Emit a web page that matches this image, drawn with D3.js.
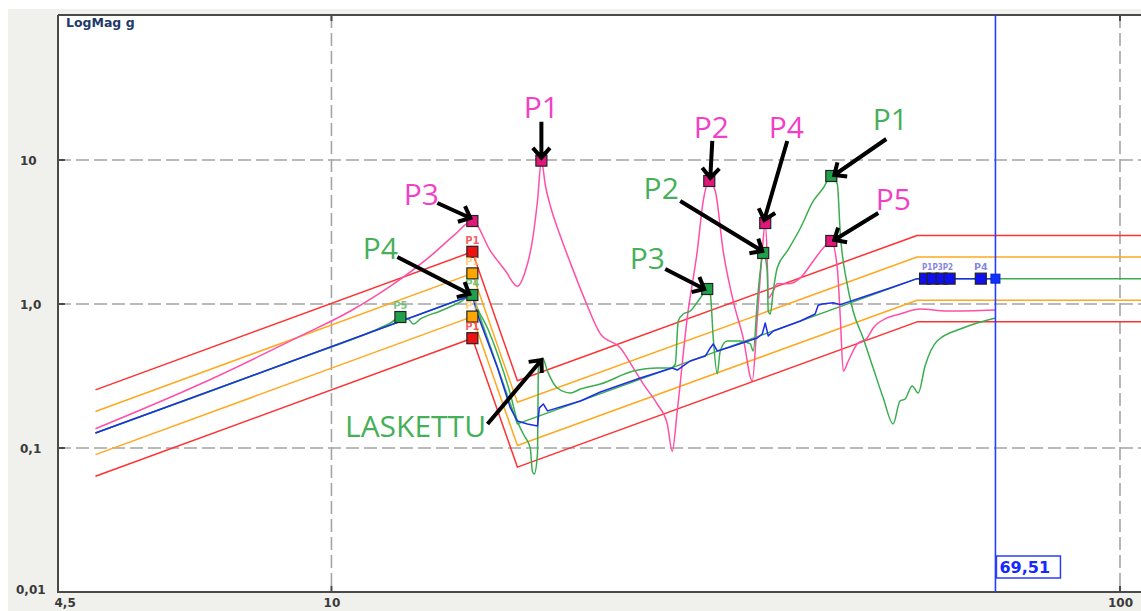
<!DOCTYPE html>
<html><head><meta charset="utf-8">
<script src="https://cdn.jsdelivr.net/npm/d3@7"></script>
<style>
html,body{margin:0;padding:0;background:#fff;overflow:hidden}
svg{display:block}
</style></head><body>
<svg id="chart" width="1141" height="611"></svg>
<script>
// ---- Sine sweep data (frequency in Hz, acceleration in g) ----

// Reference (demand) profile break points
const refF = [5.02, 15.09, 17.21, 55.29, 106.5];
const refG = [0.127, 1.155, 0.147, 1.50, 1.50];

// Alarm and abort limits around the reference, in dB
const limitDb = [6, 3, -3, -6];
const limitColor = ["#ff3030", "#ffa820", "#ffa820", "#ff3030"];

// Control channel (blue)
const blueF = [5.02, 15.09, 15.31, 15.77, 16.24, 16.86, 17.21, 17.72, 18.25, 18.35, 18.57, 18.79, 20.69, 21.93, 24.64, 27.05, 27.45, 28.51, 29.79, 30.23, 30.49, 30.85, 32.04, 34.68, 35.18, 35.49, 35.80, 36.33, 39.33, 41.06, 41.42, 41.91, 43.28, 44.19, 46.83, 51.10, 55.29, 69.51];
const blueG = [0.127, 1.155, 0.852, 0.553, 0.359, 0.190, 0.154, 0.147, 0.142, 0.190, 0.202, 0.181, 0.212, 0.245, 0.306, 0.359, 0.348, 0.402, 0.435, 0.495, 0.528, 0.472, 0.503, 0.581, 0.619, 0.738, 0.600, 0.649, 0.762, 0.852, 0.98, 1.00, 1.02, 0.99, 1.10, 1.29, 1.50, 1.50];

// Response channel (green)
const greenF = [5.02, 6.82, 9.14, 11.21, 11.88, 12.23, 12.52, 12.70, 12.97, 13.75, 14.57, 15.09, 15.31, 15.77, 16.24, 16.86, 17.21, 17.51, 17.87, 17.98, 18.08, 18.25, 18.30, 18.52, 18.79, 19.34, 20.09, 20.69, 21.93, 24.15, 25.89, 26.90, 27.29, 27.53, 27.93, 28.51, 29.36, 29.96, 30.23, 30.49, 30.85, 31.12, 31.76, 32.99, 33.97, 34.27, 34.68, 34.98, 35.28, 35.70, 35.80, 36.01, 36.33, 36.75, 37.86, 39.33, 40.84, 42.05, 43.04, 43.80, 44.19, 45.08, 45.87, 47.23, 48.64, 50.08, 51.56, 52.60, 53.40, 54.50, 55.47, 56.60, 58.62, 63.23, 69.51];
const greenG = [0.127, 0.233, 0.422, 0.639, 0.738, 0.812, 0.787, 0.726, 0.787, 0.894, 1.032, 1.155, 0.938, 0.681, 0.450, 0.237, 0.154, 0.125, 0.100, 0.069, 0.066, 0.091, 0.359, 0.422, 0.342, 0.261, 0.241, 0.257, 0.278, 0.342, 0.359, 0.359, 0.383, 0.762, 0.852, 0.894, 1.101, 1.271, 1.173, 0.581, 0.327, 0.472, 0.553, 0.553, 0.528, 0.472, 1.049, 1.695, 2.261, 1.695, 0.894, 0.852, 1.231, 1.778, 2.334, 3.372, 5.193, 6.393, 7.743, 6.813, 3.063, 1.377, 0.894, 0.581, 0.359, 0.223, 0.147, 0.212, 0.219, 0.270, 0.241, 0.371, 0.553, 0.681, 0.799];

// Response channel (pink)
const pinkF = [5.02, 6.82, 9.14, 10.57, 11.88, 13.35, 14.36, 15.09, 15.91, 16.62, 17.21, 17.62, 17.98, 18.25, 18.46, 18.68, 18.95, 19.51, 20.09, 20.99, 21.93, 23.25, 24.15, 24.86, 25.89, 26.66, 27.05, 27.45, 28.26, 29.10, 29.61, 30.14, 30.67, 31.39, 32.32, 33.28, 34.17, 34.68, 35.18, 35.49, 35.70, 35.80, 36.33, 36.75, 37.86, 39.33, 40.84, 42.05, 43.04, 43.80, 44.19, 44.57, 45.23, 46.42, 47.80, 48.64, 50.65, 52.60, 55.79, 60.36, 69.51];
const pinkG = [0.136, 0.278, 0.600, 0.894, 1.33, 2.15, 3.06, 3.77, 2.33, 1.70, 1.33, 1.70, 2.74, 5.19, 9.9, 6.60, 4.79, 2.97, 1.93, 1.05, 0.62, 0.495, 0.359, 0.278, 0.202, 0.147, 0.095, 0.181, 0.80, 2.33, 5.19, 7.15, 6.09, 2.33, 1.05, 0.58, 0.292, 0.80, 2.33, 3.65, 1.99, 1.10, 1.23, 1.38, 1.38, 1.52, 1.99, 2.45, 2.74, 1.78, 0.80, 0.342, 0.402, 0.528, 0.581, 0.681, 0.80, 0.852, 0.923, 0.894, 0.909];

// Peak markers
const pinkPeakF = [15.09, 18.46, 30.14, 35.49, 43.04];
const pinkPeakG = [3.77, 9.9, 7.15, 3.65, 2.74];
const greenPeakF = [12.23, 15.09, 29.96, 35.28, 43.04];
const greenPeakG = [0.812, 1.155, 1.271, 2.261, 7.743];
const greenPeakName = ["P5", "P4", "P3", "P2", "P1"];
const controlLevel = 1.5;
const bluePeakF = [56.6, 57.9, 59.4, 60.8, 66.6];
const blueGroupName = ["P1P3P2", "P4"];
const blueGroupF = [58.7, 66.6];
const limitMarkF = 15.09;
const limitMarkName = ["P1", "P1", "P1", "P1"];

// Cursor
const cursorF = 69.51;
const cursorText = "69,51";

// Axis ticks
const yTicks = [0.01, 0.1, 1, 10];
const yTickText = ["0,01", "0,1", "1,0", "10"];
const xTicks = [4.5, 10, 100];
const xTickText = ["4,5", "10", "100"];
const yGrid = [0.1, 1, 10];
const xGrid = [10, 100];
const yTitle = "LogMag g";

// Callouts: which peak they point at, and their text
const calloutText = ["P1", "P3", "P2", "P4", "P1", "P5", "P2", "P3", "P4", "LASKETTU"];
const calloutSeries = ["pink", "pink", "pink", "pink", "green", "pink", "green", "green", "green", "green"];
const calloutF = [18.46, 15.09, 30.14, 35.49, 43.04, 43.04, 35.28, 29.96, 15.09, 18.52];
const calloutG = [9.9, 3.77, 7.15, 3.65, 7.743, 2.74, 2.261, 1.271, 1.155, 0.422];

// ---- Layout ----
const C = {
  red: "#ff3030", orange: "#ffa820", green: "#3aae4e", pink: "#ff4fa6",
  blue: "#1e2cf0", grid: "#a4a4a4", axis: "#4a4a4a", panel: "#f0f0ec",
  pinkText: "#f23fc6", greenText: "#45b058"
};
const P = { left: 58, top: 15, right: 1141, bottom: 592 };

const svg = d3.select("#chart");
const x = d3.scaleLog().domain([4.5, 100]).range([58, 1120]);
const y = d3.scaleLog().domain([0.01, 100]).range([592, 16]);

svg.append("rect").attr("width", 1141).attr("height", 611).attr("fill", "#fff");
svg.append("rect").attr("x", 8).attr("y", 9).attr("width", 1133).attr("height", 602).attr("fill", C.panel);
svg.append("rect").attr("x", P.left).attr("y", P.top)
  .attr("width", P.right - P.left).attr("height", P.bottom - P.top).attr("fill", "#fff");

svg.append("clipPath").attr("id", "plotClip").append("rect")
  .attr("x", P.left).attr("y", P.top).attr("width", P.right - P.left).attr("height", P.bottom - P.top);

// grid
const grid = svg.append("g").attr("clip-path", "url(#plotClip)");
grid.selectAll("line.h").data(yGrid).join("line")
  .attr("x1", P.left).attr("x2", P.right).attr("y1", d => y(d)).attr("y2", d => y(d))
  .attr("stroke", C.grid).attr("stroke-width", 1.6).attr("stroke-dasharray", "13,5");
grid.selectAll("line.v").data(xGrid).join("line")
  .attr("class", "v")
  .attr("y1", P.top).attr("y2", P.bottom).attr("x1", d => x(d)).attr("x2", d => x(d))
  .attr("stroke", C.grid).attr("stroke-width", 1.6).attr("stroke-dasharray", "13,5");

// tick stubs at the ends of grid lines
const stubs = svg.append("g").attr("stroke", C.axis).attr("stroke-width", 2);
yGrid.forEach(v => stubs.append("line").attr("x1", P.left).attr("x2", P.left + 7).attr("y1", y(v)).attr("y2", y(v)));
xGrid.forEach(v => {
  stubs.append("line").attr("x1", x(v)).attr("x2", x(v)).attr("y1", P.bottom).attr("y2", P.bottom - 6);
  stubs.append("line").attr("x1", x(v)).attr("x2", x(v)).attr("y1", P.top).attr("y2", P.top + 6);
});

// axes labels via d3 axes
const yAxis = svg.append("g").attr("transform", `translate(${P.left},0)`)
  .call(d3.axisLeft(y).tickValues(yTicks).tickSize(0).tickPadding(0)
    .tickFormat(d => yTickText[yTicks.indexOf(d)]));
yAxis.select(".domain").remove();
yAxis.selectAll("text")
  .attr("text-anchor", "start")
  .attr("x", d => d === 0.01 ? -42 : -38)
  .attr("dy", d => d === 0.01 ? "0.1em" : "0.35em")
  .attr("font-family", "DejaVu Sans, Verdana, sans-serif")
  .attr("font-weight", "bold").attr("font-size", 12).attr("fill", "#3a3a3a");

const xAxis = svg.append("g").attr("transform", `translate(0,${P.bottom})`)
  .call(d3.axisBottom(x).tickValues(xTicks).tickSize(0).tickPadding(6)
    .tickFormat(d => xTickText[xTicks.indexOf(d)]));
xAxis.select(".domain").remove();
xAxis.selectAll("text")
  .attr("text-anchor", d => d === 4.5 ? "start" : "middle")
  .attr("x", d => d === 4.5 ? -4 : 0)
  .attr("font-family", "DejaVu Sans, Verdana, sans-serif")
  .attr("font-weight", "bold").attr("font-size", 12).attr("fill", "#3a3a3a");

// frame
svg.append("path")
  .attr("d", `M${P.left},${P.top}L${P.right},${P.top}M${P.left},${P.top}L${P.left},${P.bottom}L${P.right},${P.bottom}`)
  .attr("fill", "none").attr("stroke", C.axis).attr("stroke-width", 2);

svg.append("text").attr("x", 66).attr("y", 27).text(yTitle)
  .attr("font-family", "DejaVu Sans, Verdana, sans-serif").attr("font-weight", "bold")
  .attr("font-size", 12.5).attr("fill", "#1f3a6a");

// ---- traces ----
const line = d3.line().x(d => x(d[0])).y(d => y(d[1]));
const smooth = d3.line().x(d => x(d[0])).y(d => y(d[1])).curve(d3.curveMonotoneX);
const pairs = (fs, gs) => fs.map((f, i) => [f, gs[i]]);
const traces = svg.append("g").attr("clip-path", "url(#plotClip)")
  .attr("fill", "none").attr("stroke-width", 1.5).attr("stroke-linejoin", "round");

const refPts = pairs(refF, refG);
limitDb.forEach((db, i) => {
  const k = Math.pow(10, db / 20);
  traces.append("path").attr("d", line(refPts.map(p => [p[0], p[1] * k])))
    .attr("stroke", limitColor[i]);
});
traces.append("path").attr("d", line(refPts)).attr("stroke", C.green);
traces.append("path").attr("d", smooth(pairs(pinkF, pinkG))).attr("stroke", C.pink);
traces.append("path").attr("d", smooth(pairs(greenF, greenG))).attr("stroke", C.green);
traces.append("path").attr("d", line(pairs(blueF, blueG))).attr("stroke", C.blue);

// cursor
const cx = x(cursorF);
svg.append("line").attr("x1", cx).attr("x2", cx).attr("y1", P.top).attr("y2", P.bottom)
  .attr("stroke", "#2a3cff").attr("stroke-width", 1.6);

// ---- markers ----
const mk = svg.append("g");
function square(f, g, fill, size, stroke) {
  mk.append("rect").attr("x", x(f) - size / 2).attr("y", y(g) - size / 2)
    .attr("width", size).attr("height", size)
    .attr("fill", fill).attr("stroke", stroke || "#222").attr("stroke-width", 1.2);
}
function tag(f, g, txt, color, dy, size) {
  return mk.append("text").attr("x", x(f)).attr("y", y(g) + dy).text(txt)
    .attr("text-anchor", "middle").attr("font-family", "DejaVu Sans, Verdana, sans-serif")
    .attr("font-weight", "bold").attr("font-size", size || 10).attr("fill", color);
}

// limit markers at the notch start
const refAtMark = refG[1];
limitDb.forEach((db, i) => {
  const g = refAtMark * Math.pow(10, db / 20);
  const fill = i === 0 || i === 3 ? "#ee1212" : "#ffa500";
  const lab = i === 0 || i === 3 ? "rgba(240,70,70,0.85)" : "rgba(255,190,80,0.7)";
  tag(limitMarkF, g, limitMarkName[i], lab, -8);
  square(limitMarkF, g, fill, 11);
});

// blue markers on the control line
blueGroupF.forEach((f, i) => {
  const t = tag(f, controlLevel, blueGroupName[i], "rgba(90,90,215,0.75)", -9, 9.5);
  if (blueGroupName[i].length > 2) t.attr("textLength", 31).attr("lengthAdjust", "spacingAndGlyphs");
});
bluePeakF.forEach(f => square(f, controlLevel, "#1010ee", 11));
mk.append("rect").attr("x", cx - 4.5).attr("y", y(controlLevel) - 4.5).attr("width", 9).attr("height", 9)
  .attr("fill", "#1030ff").attr("stroke", "#1020c0").attr("stroke-width", 1);

// green peak markers
greenPeakF.forEach((f, i) => {
  if (greenPeakName[i] === "P5" || greenPeakName[i] === "P4")
    tag(f, greenPeakG[i], greenPeakName[i], "rgba(80,180,90,0.75)", -8);
  square(f, greenPeakG[i], "#20a04a", 11);
});
// pink peak markers
pinkPeakF.forEach((f, i) => square(f, pinkPeakG[i], "#e0187c", 11));

// cursor readout
const box = svg.append("g");
box.append("rect").attr("x", cx + 1).attr("y", 556).attr("width", 64).attr("height", 22)
  .attr("fill", "#fff").attr("stroke", "#2a3cff").attr("stroke-width", 1.5);
box.append("text").attr("x", cx + 4).attr("y", 573).text(cursorText)
  .attr("font-family", "DejaVu Sans, Verdana, sans-serif").attr("font-weight", "bold")
  .attr("font-size", 16).attr("fill", "#1428ff");

// ---- callouts ----
// pixel offsets from the peak: arrow tip, arrow tail, text (centre, baseline)
const calloutLayout = [
  { tip: [0, -3], tail: [0, -39], text: [0, -43] },
  { tip: [-2, -3], tail: [-35, -18], text: [-51, -16] },
  { tip: [1, -3], tail: [3, -40], text: [2, -43] },
  { tip: [-1, -3], tail: [22, -82], text: [21, -85] },
  { tip: [3, -1], tail: [55, -37], text: [59, -46] },
  { tip: [3, -1], tail: [47, -28], text: [62, -31] },
  { tip: [-1, -2], tail: [-83, -52], text: [-102, -54] },
  { tip: [-3, 0], tail: [-42, -20], text: [-60, -20] },
  { tip: [-3, -1], tail: [-75, -38], text: [-92, -36] },
  { tip: [-1, 2], tail: [-55, 66], text: [-127, 79] }
];
const ann = svg.append("g");
calloutText.forEach((t, i) => {
  const px = x(calloutF[i]), py = y(calloutG[i]);
  const L = calloutLayout[i];
  const x2 = px + L.tip[0], y2 = py + L.tip[1];
  const x1 = px + L.tail[0], y1 = py + L.tail[1];
  const a = Math.atan2(y2 - y1, x2 - x1), len = 13, spread = 0.72;
  const h1 = [x2 - len * Math.cos(a - spread), y2 - len * Math.sin(a - spread)];
  const h2 = [x2 - len * Math.cos(a + spread), y2 - len * Math.sin(a + spread)];
  ann.append("path")
    .attr("d", `M${x1},${y1}L${x2},${y2}M${h1[0]},${h1[1]}L${x2},${y2}L${h2[0]},${h2[1]}`)
    .attr("fill", "none").attr("stroke", "#000").attr("stroke-width", 4)
    .attr("stroke-linejoin", "miter");
  ann.append("text").attr("x", px + L.text[0]).attr("y", py + L.text[1]).text(t)
    .attr("text-anchor", "middle").attr("font-family", "Open Sans, sans-serif")
    .attr("font-size", 30)
    .attr("fill", calloutSeries[i] === "pink" ? C.pinkText : C.greenText);
});
</script></body></html>
